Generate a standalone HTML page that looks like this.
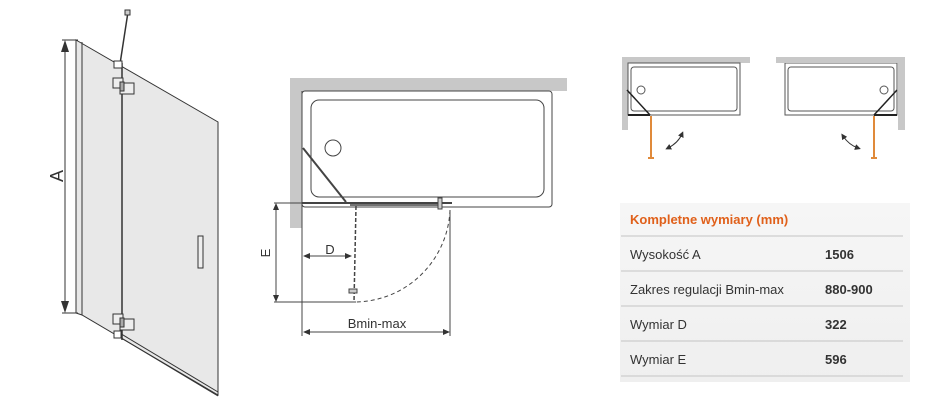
<!DOCTYPE html>
<html><head><meta charset="utf-8"><style>
body{margin:0;background:#fff;width:950px;height:413px;overflow:hidden;font-family:"Liberation Sans",sans-serif}
</style></head><body>
<svg width="950" height="413" viewBox="0 0 950 413" xmlns="http://www.w3.org/2000/svg" style="position:absolute;left:0;top:0">
<defs>
<marker id="ah" markerWidth="6" markerHeight="6" refX="3" refY="3" orient="auto-start-reverse"><path d="M0,0 L6,3 L0,6 z" fill="#333"/></marker>
<linearGradient id="g" x1="0" y1="0" x2="0" y2="1"><stop offset="0" stop-color="#f6f6f6"/><stop offset="1" stop-color="#efefef"/></linearGradient>
</defs>
<!-- left panel -->
<g stroke="#333" fill="none" stroke-width="1">
<polygon points="76,40 218,122 218,395 82,315 76,313" fill="#e8e8e8"/>
<line x1="82" y1="42" x2="82" y2="315"/>
<line x1="122" y1="63" x2="122" y2="340" stroke-width="1.5"/>
<line x1="118" y1="332" x2="218" y2="392"/>
<line x1="118" y1="336" x2="218" y2="396"/>
<line x1="128" y1="12" x2="120" y2="64" stroke-width="1.5"/>
<rect x="125" y="10" width="5" height="5" fill="#ccc"/>
<rect x="114" y="61" width="8" height="7" fill="#fff"/>
<rect x="113" y="78" width="10" height="10" fill="#eee"/>
<rect x="120" y="83" width="14" height="11" fill="#eee"/>
<rect x="120" y="82" width="4" height="9" fill="#aaa"/>
<rect x="113" y="314" width="10" height="10" fill="#eee"/>
<rect x="120" y="319" width="14" height="11" fill="#eee"/>
<rect x="120" y="318" width="4" height="9" fill="#aaa"/>
<rect x="114" y="331" width="7" height="7" fill="#fff"/>
<rect x="198" y="236" width="5" height="32" fill="#eee"/>
<line x1="62" y1="40" x2="78" y2="40"/>
<line x1="62" y1="313" x2="78" y2="313"/>
<line x1="65" y1="42" x2="65" y2="311"/>
</g>
<polygon points="65,40 61,52 69,52" fill="#333"/><polygon points="65,313 61,301 69,301" fill="#333"/>
<text x="63" y="176" font-size="18" fill="#333" text-anchor="middle" transform="rotate(-90 63 176)">A</text>
<!-- middle -->
<rect x="290" y="78" width="277" height="13" fill="#c8c8c8"/>
<rect x="290" y="78" width="12" height="150" fill="#c8c8c8"/>
<g stroke="#444" fill="none" stroke-width="1">
<line x1="302" y1="91" x2="302" y2="228"/>
<rect x="302" y="91" width="250" height="116" rx="3" fill="#fff"/>
<rect x="311" y="100" width="233" height="97" rx="8"/>
<circle cx="333" cy="148" r="8"/>
<line x1="303" y1="148" x2="346" y2="202" stroke-width="2"/>
<line x1="302" y1="203" x2="452" y2="203" stroke-width="2"/>
<line x1="350" y1="205" x2="440" y2="205" stroke-width="1.5"/>
<rect x="438" y="198" width="4" height="11" fill="#ccc"/>
<path d="M356,206 L354,302" stroke-dasharray="4,2" stroke-width="1.5"/>
<path d="M450,210 A96,96 0 0 1 356,302" stroke-dasharray="4,3"/>
<line x1="274" y1="203" x2="302" y2="203"/>
<line x1="274" y1="302" x2="356" y2="302"/>
<line x1="276" y1="205" x2="276" y2="300"/>
<line x1="305" y1="256" x2="350" y2="256"/>
<line x1="302" y1="228" x2="302" y2="336"/>
<line x1="450" y1="210" x2="450" y2="336"/>
<line x1="305" y1="332" x2="447" y2="332"/>
<rect x="349" y="289" width="8" height="4" fill="#ccc"/>
</g>
<g fill="#333">
<polygon points="276,203 273,210 279,210"/><polygon points="276,302 273,295 279,295"/>
<polygon points="303,256 310,253 310,259"/><polygon points="352,256 345,253 345,259"/>
<polygon points="303,332 310,329 310,335"/><polygon points="450,332 443,329 443,335"/>
</g>
<text x="270" y="253" font-size="13" fill="#333" text-anchor="middle" transform="rotate(-90 270 253)">E</text>
<text x="330" y="254" font-size="13" fill="#333" text-anchor="middle">D</text>
<text x="377" y="328" font-size="13" fill="#333" text-anchor="middle">Bmin-max</text>
<!-- mini left -->
<rect x="622" y="57" width="128" height="6" fill="#c8c8c8"/>
<rect x="622" y="57" width="6" height="73" fill="#c8c8c8"/>
<g stroke="#555" fill="none">
<rect x="628" y="63" width="112" height="52" fill="#fff"/>
<rect x="631" y="67" width="106" height="44" rx="3"/>
<circle cx="641" cy="90" r="4"/>
<line x1="627" y1="90" x2="650" y2="115" stroke="#222" stroke-width="1.5"/>
<line x1="628" y1="115" x2="650" y2="115" stroke="#222" stroke-width="2"/>
<path d="M668,148 Q678,143 682,134" stroke="#333" marker-start="url(#ah)" marker-end="url(#ah)"/>
<rect x="785" y="63" width="112" height="52" fill="#fff"/>
<rect x="788" y="67" width="106" height="44" rx="3"/>
<circle cx="884" cy="90" r="4"/>
<line x1="897" y1="90" x2="874" y2="115" stroke="#222" stroke-width="1.5"/>
<line x1="874" y1="115" x2="897" y2="115" stroke="#222" stroke-width="2"/>
<path d="M843,136 Q849,145 858,148" stroke="#333" marker-start="url(#ah)" marker-end="url(#ah)"/>
</g>
<rect x="776" y="57" width="129" height="6" fill="#c8c8c8"/>
<rect x="898" y="57" width="7" height="73" fill="#c8c8c8"/>
<g stroke="#e08a3a" stroke-width="2">
<line x1="651" y1="116" x2="651" y2="159"/><line x1="648" y1="158" x2="654" y2="158"/>
<line x1="874" y1="116" x2="874" y2="159"/><line x1="871" y1="158" x2="877" y2="158"/>
</g>
<!-- table -->
<rect x="620" y="203" width="290" height="179" fill="url(#g)"/>
<g stroke="#c4c4c4"><line x1="621" y1="236" x2="903" y2="236"/><line x1="621" y1="271" x2="903" y2="271"/><line x1="621" y1="306" x2="903" y2="306"/><line x1="621" y1="341" x2="903" y2="341"/><line x1="621" y1="376" x2="903" y2="376"/></g>
<g font-size="13" fill="#333">
<text x="630" y="224" fill="#e0601a" font-weight="bold">Kompletne wymiary (mm)</text>
<text x="630" y="259">Wysokość A</text><text x="825" y="259" font-weight="bold">1506</text>
<text x="630" y="294">Zakres regulacji Bmin-max</text><text x="825" y="294" font-weight="bold">880-900</text>
<text x="630" y="329">Wymiar D</text><text x="825" y="329" font-weight="bold">322</text>
<text x="630" y="364">Wymiar E</text><text x="825" y="364" font-weight="bold">596</text>
</g>
</svg>
</body></html>
